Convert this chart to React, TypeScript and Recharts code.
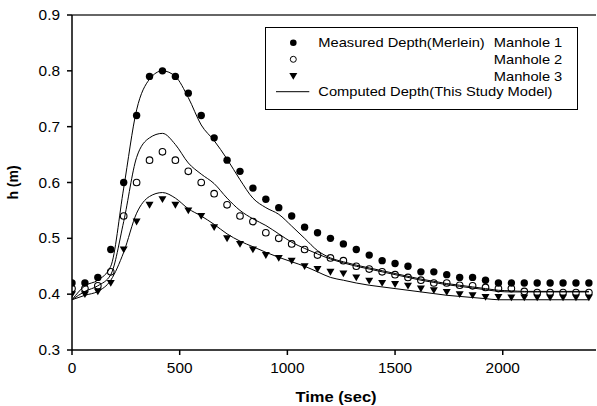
import React from 'react';
import { ComposedChart, Line, Scatter, XAxis, YAxis, ReferenceLine, Legend } from 'recharts';

// time (sec)
const times = [0, 60, 120, 180, 240, 300, 360, 420, 480, 540, 600, 660, 720, 780, 840, 900, 960, 1020, 1080, 1140, 1200,
  1260, 1320, 1380, 1440, 1500, 1560, 1620, 1680, 1740, 1800, 1860, 1920, 1980, 2040, 2100, 2160, 2220, 2280, 2340, 2400];

// Measured depth (Merlein)
const measured1 = [0.42, 0.42, 0.43, 0.48, 0.60, 0.72, 0.79, 0.80, 0.79, 0.76, 0.72, 0.68, 0.64, 0.62, 0.59, 0.57, 0.555, 0.54, 0.52, 0.51, 0.50,
  0.49, 0.48, 0.47, 0.46, 0.455, 0.45, 0.44, 0.44, 0.435, 0.43, 0.43, 0.425, 0.42, 0.42, 0.42, 0.42, 0.42, 0.42, 0.42, 0.42];
const measured2 = [0.41, 0.41, 0.415, 0.44, 0.54, 0.60, 0.64, 0.655, 0.64, 0.62, 0.60, 0.58, 0.56, 0.54, 0.53, 0.51, 0.50, 0.49, 0.48, 0.47, 0.465,
  0.46, 0.45, 0.445, 0.44, 0.435, 0.43, 0.425, 0.42, 0.42, 0.416, 0.415, 0.412, 0.41, 0.41, 0.405, 0.403, 0.403, 0.403, 0.403, 0.403];
const measured3 = [0.40, 0.40, 0.405, 0.42, 0.48, 0.53, 0.56, 0.57, 0.56, 0.55, 0.54, 0.52, 0.50, 0.49, 0.48, 0.47, 0.465, 0.46, 0.45, 0.445, 0.44,
  0.437, 0.43, 0.424, 0.42, 0.418, 0.415, 0.41, 0.407, 0.404, 0.40, 0.398, 0.395, 0.395, 0.394, 0.394, 0.394, 0.394, 0.394, 0.394, 0.394];

// Computed depth (this study model)
const computed1 = [0.39, 0.415, 0.425, 0.45, 0.59, 0.73, 0.785, 0.80, 0.79, 0.752, 0.703, 0.675, 0.642, 0.605, 0.572, 0.555, 0.543, 0.522, 0.50, 0.478, 0.465,
  0.458, 0.452, 0.447, 0.442, 0.437, 0.432, 0.427, 0.423, 0.419, 0.416, 0.413, 0.41, 0.407, 0.406, 0.405, 0.405, 0.405, 0.405, 0.405, 0.405];
const computed2 = [0.39, 0.405, 0.415, 0.435, 0.53, 0.645, 0.68, 0.688, 0.668, 0.635, 0.615, 0.598, 0.572, 0.55, 0.535, 0.523, 0.508, 0.493, 0.482, 0.472, 0.463,
  0.456, 0.45, 0.445, 0.44, 0.435, 0.43, 0.425, 0.421, 0.417, 0.414, 0.411, 0.408, 0.405, 0.404, 0.404, 0.404, 0.404, 0.404, 0.404, 0.404];
const computed3 = [0.39, 0.398, 0.405, 0.425, 0.475, 0.545, 0.575, 0.582, 0.572, 0.553, 0.54, 0.525, 0.508, 0.495, 0.485, 0.475, 0.466, 0.458, 0.45, 0.44, 0.43,
  0.425, 0.42, 0.416, 0.413, 0.41, 0.407, 0.404, 0.401, 0.398, 0.396, 0.394, 0.392, 0.39, 0.39, 0.39, 0.39, 0.39, 0.39, 0.39, 0.39];

const xTicks = [0, 500, 1000, 1500, 2000];
const yTicks = [0.3, 0.4, 0.5, 0.6, 0.7, 0.8, 0.9];

const legendMeasured = 'Measured Depth(Merlein)';
const legendM1 = 'Manhole 1';
const legendM2 = 'Manhole 2';
const legendM3 = 'Manhole 3';
const legendComputed = 'Computed Depth(This Study Model)';
const xTitle = 'Time (sec)';
const yTitle = 'h (m)';

const rows = times.map((t, i) => ({
  t,
  m1: measured1[i],
  m2: measured2[i],
  m3: measured3[i],
  c1: computed1[i],
  c2: computed2[i],
  c3: computed3[i],
}));

const FONT = "'Liberation Sans', Arial, Helvetica, sans-serif";

const SText = ({ x, y, anchor = 'start', size = 13, bold = false, sx = 1.12, children }: any) => (
  <text
    transform={`translate(${x},${y}) scale(${sx},1)`}
    textAnchor={anchor}
    fontSize={size}
    fontWeight={bold ? 'bold' : 'normal'}
    fontFamily={FONT}
    fill="#000"
  >
    {children}
  </text>
);

const YTick = (props: any) => {
  const { x, y, payload } = props;
  return <SText x={x} y={y + 5} anchor="end" size={14} sx={1.1}>{Number(payload.value).toFixed(1)}</SText>;
};

const XTick = (props: any) => {
  const { x, y, payload } = props;
  return <SText x={x} y={y + 15} anchor="middle" size={14} sx={1.1}>{String(payload.value)}</SText>;
};

const XTitle = (props: any) => {
  const vb = props.viewBox || { x: 72, y: 350, width: 524, height: 56 };
  return (
    <SText x={vb.x + vb.width / 2 + 2} y={vb.y + 52} anchor="middle" size={15} bold sx={1.1}>{xTitle}</SText>
  );
};

const YTitle = (props: any) => {
  const vb = props.viewBox || { x: 0, y: 15, width: 72, height: 335 };
  const cy = vb.y + vb.height / 2;
  return (
    <text
      transform={`translate(${vb.x + 18},${cy}) rotate(-90)`}
      textAnchor="middle"
      fontSize={14}
      fontWeight="bold"
      fontFamily={FONT}
      fill="#000"
    >
      {yTitle}
    </text>
  );
};

const FilledDot = (props: any) => {
  const { cx, cy } = props;
  if (cx == null || cy == null) return null;
  return <circle cx={cx} cy={cy} r={3.7} fill="#000" stroke="none" />;
};
const OpenDot = (props: any) => {
  const { cx, cy } = props;
  if (cx == null || cy == null) return null;
  return <circle cx={cx} cy={cy} r={3.3} fill="none" stroke="#000" strokeWidth={1.1} />;
};
const TriDown = (props: any) => {
  const { cx, cy } = props;
  if (cx == null || cy == null) return null;
  return <path d={`M${cx - 4},${cy - 3} L${cx + 4},${cy - 3} L${cx},${cy + 3.8} Z`} fill="#000" stroke="none" />;
};

const LegendBox = () => (
  <svg width={314} height={84} style={{ display: 'block', overflow: 'visible' }}>
    <rect x={0.5} y={0.5} width={312} height={82} fill="#fff" stroke="#000" strokeWidth={1} />
    <circle cx={28.3} cy={15.7} r={3.3} fill="#000" />
    <circle cx={28.3} cy={32.3} r={3} fill="none" stroke="#000" strokeWidth={1} />
    <path d={`M24.3,46 L32.3,46 L28.3,52.8 Z`} fill="#000" />
    <line x1={11} x2={44.3} y1={64.7} y2={64.7} stroke="#000" strokeWidth={1} />
    <SText x={53.3} y={20.3} size={13} sx={1.13}>{legendMeasured}</SText>
    <SText x={297.3} y={20.3} anchor="end" size={13} sx={1.13}>{legendM1}</SText>
    <SText x={297.3} y={37} anchor="end" size={13} sx={1.13}>{legendM2}</SText>
    <SText x={297.3} y={53.6} anchor="end" size={13} sx={1.13}>{legendM3}</SText>
    <SText x={53.3} y={69.4} size={13} sx={1.13}>{legendComputed}</SText>
  </svg>
);

export default function App() {
  return (
    <div style={{ position: 'absolute', left: 0, top: 0, width: 597, height: 406, background: '#fff' }}>
      <ComposedChart width={597} height={406} data={rows} margin={{ top: 15, right: 1, bottom: 0, left: 0 }}>
        <XAxis
          dataKey="t"
          type="number"
          domain={[0, 2433]}
          ticks={xTicks}
          allowDataOverflow
          height={56}
          tickSize={5}
          tickMargin={3}
          axisLine={{ stroke: '#000', strokeWidth: 1.5 }}
          tickLine={{ stroke: '#000', strokeWidth: 1.5 }}
          tick={<XTick />}
          label={<XTitle />}
        />
        <YAxis
          type="number"
          domain={[0.3, 0.9]}
          ticks={yTicks}
          allowDataOverflow
          width={72}
          tickSize={5}
          tickMargin={7}
          axisLine={{ stroke: '#000', strokeWidth: 1.5 }}
          tickLine={{ stroke: '#000', strokeWidth: 1.5 }}
          tick={<YTick />}
          label={<YTitle />}
        />
        <ReferenceLine y={0.9} stroke="#333" strokeWidth={1.5} />
        <Scatter dataKey="m1" shape={<FilledDot />} isAnimationActive={false} />
        <Scatter dataKey="m2" shape={<OpenDot />} isAnimationActive={false} />
        <Scatter dataKey="m3" shape={<TriDown />} isAnimationActive={false} />
        <Line dataKey="c1" type="monotone" stroke="#000" strokeWidth={1} dot={false} activeDot={false} isAnimationActive={false} />
        <Line dataKey="c2" type="monotone" stroke="#000" strokeWidth={1} dot={false} activeDot={false} isAnimationActive={false} />
        <Line dataKey="c3" type="monotone" stroke="#000" strokeWidth={1} dot={false} activeDot={false} isAnimationActive={false} />
        <Legend
          layout="vertical"
          align="center"
          verticalAlign="middle"
          content={() => <LegendBox />}
          wrapperStyle={{ position: 'absolute', left: 265, top: 27, width: 314, height: 84 }}
        />
      </ComposedChart>
    </div>
  );
}
